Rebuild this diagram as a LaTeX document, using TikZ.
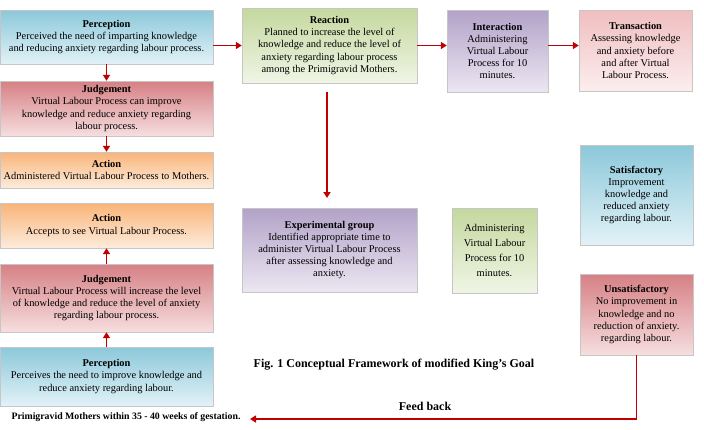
\documentclass[tikz,border=0pt]{standalone}
\usepackage{fontspec}
\setmainfont{Liberation Serif}
\usetikzlibrary{arrows.meta,shadows}

\definecolor{darkred}{RGB}{192,0,0}
\definecolor{bluetop}{RGB}{140,200,218}
\definecolor{bluebot}{RGB}{226,242,247}
\definecolor{redtop}{RGB}{214,128,132}
\definecolor{redbot}{RGB}{246,222,223}
\definecolor{orangetop}{RGB}{249,180,120}
\definecolor{orangebot}{RGB}{253,236,220}
\definecolor{greentop}{RGB}{196,216,158}
\definecolor{greenbot}{RGB}{240,245,230}
\definecolor{purpletop}{RGB}{178,162,200}
\definecolor{purplebot}{RGB}{236,231,242}
\definecolor{pinktop}{RGB}{240,190,192}
\definecolor{pinkbot}{RGB}{252,238,238}

\begin{document}
\begin{tikzpicture}[x=1pt, y=-1pt,
  box/.style={draw=gray!45, line width=0.4pt, align=center, inner sep=1pt,
    font=\fontsize{10.4}{12.2}\selectfont,
    drop shadow={shadow xshift=1pt, shadow yshift=-1.2pt, opacity=0.35}},
  bluebox/.style={box, top color=bluetop, bottom color=bluebot},
  redbox/.style={box, top color=redtop, bottom color=redbot},
  orangebox/.style={box, top color=orangetop, bottom color=orangebot},
  greenbox/.style={box, top color=greentop, bottom color=greenbot},
  purplebox/.style={box, top color=purpletop, bottom color=purplebot},
  pinkbox/.style={box, top color=pinktop, bottom color=pinkbot},
  flow/.style={draw=darkred, line width=1.8pt, -{Triangle[length=6pt,width=7pt]}}]
\useasboundingbox (0,0) rectangle (704,429);

% Left column
\node[bluebox, minimum width=213pt, minimum height=54pt] (perc1) at (106.5,37)
  {\textbf{Perception}\\Perceived the need of imparting knowledge\\and reducing anxiety regarding labour process.};
\node[redbox, minimum width=213pt, minimum height=55pt] (judg1) at (106.5,108.5)
  {\textbf{Judgement}\\Virtual Labour Process can improve\\knowledge and reduce anxiety regarding\\labour process.};
\node[orangebox, minimum width=213pt, minimum height=36pt] (act1) at (106.5,170)
  {\textbf{Action}\\Administered Virtual Labour Process to Mothers.};
\node[orangebox, minimum width=213pt, minimum height=45pt] (act2) at (106.5,225.5)
  {\textbf{Action}\\Accepts to see Virtual Labour Process.};
\node[redbox, minimum width=213pt, minimum height=68pt] (judg2) at (106.5,298)
  {\textbf{Judgement}\\Virtual Labour Process will increase the level\\of knowledge and reduce the level of anxiety\\regarding labour process.};
\node[bluebox, minimum width=213pt, minimum height=59pt] (perc2) at (106.5,376.5)
  {\textbf{Perception}\\Perceives the need to improve knowledge and\\reduce anxiety regarding labour.};
\node[font=\fontsize{9.8}{11}\selectfont\bfseries, anchor=west] (mothers) at (8,417)
  {Primigravid Mothers within 35 - 40 weeks of gestation.};

% Top row
\node[greenbox, minimum width=175pt, minimum height=75pt] (react) at (329.5,45.5)
  {\textbf{Reaction}\\Planned to increase the level of\\knowledge and reduce the level of\\anxiety regarding labour process\\among the Primigravid Mothers.};
\node[purplebox, minimum width=101pt, minimum height=82pt] (inter) at (497.5,51)
  {\textbf{Interaction}\\Administering\\Virtual Labour\\Process for 10\\minutes.};
\node[pinkbox, minimum width=113pt, minimum height=81pt] (trans) at (635.5,50.5)
  {\textbf{Transaction}\\Assessing knowledge\\and anxiety before\\and after Virtual\\Labour Process.};

% Middle
\node[purplebox, minimum width=175pt, minimum height=84pt] (expg) at (329.5,250)
  {\textbf{Experimental group}\\Identified appropriate time to\\administer Virtual Labour Process\\after assessing knowledge and\\anxiety.};
\node[greenbox, minimum width=85pt, minimum height=85pt, font=\fontsize{10.4}{15}\selectfont] (admin) at (494.5,250.5)
  {Administering\\Virtual Labour\\Process for 10\\minutes.};
\node[bluebox, minimum width=113pt, minimum height=100pt] (satis) at (636.5,195)
  {\textbf{Satisfactory}\\Improvement\\knowledge and\\reduced anxiety\\regarding labour.};
\node[redbox, minimum width=113pt, minimum height=81pt] (unsat) at (636.5,314.5)
  {\textbf{Unsatisfactory}\\No improvement in\\knowledge and no\\reduction of anxiety.\\regarding labour.};

% Captions
\node[font=\fontsize{12}{14}\selectfont\bfseries] (fig) at (394,365)
  {Fig. 1 Conceptual Framework of modified King’s Goal};
\node[font=\fontsize{12}{14}\selectfont\bfseries] (fbl) at (425,406) {Feed back};

% Connectors
\coordinate (rdn) at (327,198);
\coordinate (fb) at (250,419);
\draw[flow] (perc1.south) -- (judg1.north);
\draw[flow] (judg1.south) -- (act1.north);
\draw[flow] (perc2.north) -- (judg2.south);
\draw[flow] (judg2.north) -- (act2.south);
\draw[flow] (perc1.east |- react.west) -- (react.west);
\draw[flow] (react.east) -- (react.east -| inter.west);
\draw[flow] (react.east -| inter.east) -- (react.east -| trans.west);
\draw[flow] ([xshift=-2.5pt,yshift=-9pt]react.south) -- (rdn);
\draw[flow] (unsat.south) -- (unsat.south |- fb) -- (fb);

\end{tikzpicture}
\end{document}
